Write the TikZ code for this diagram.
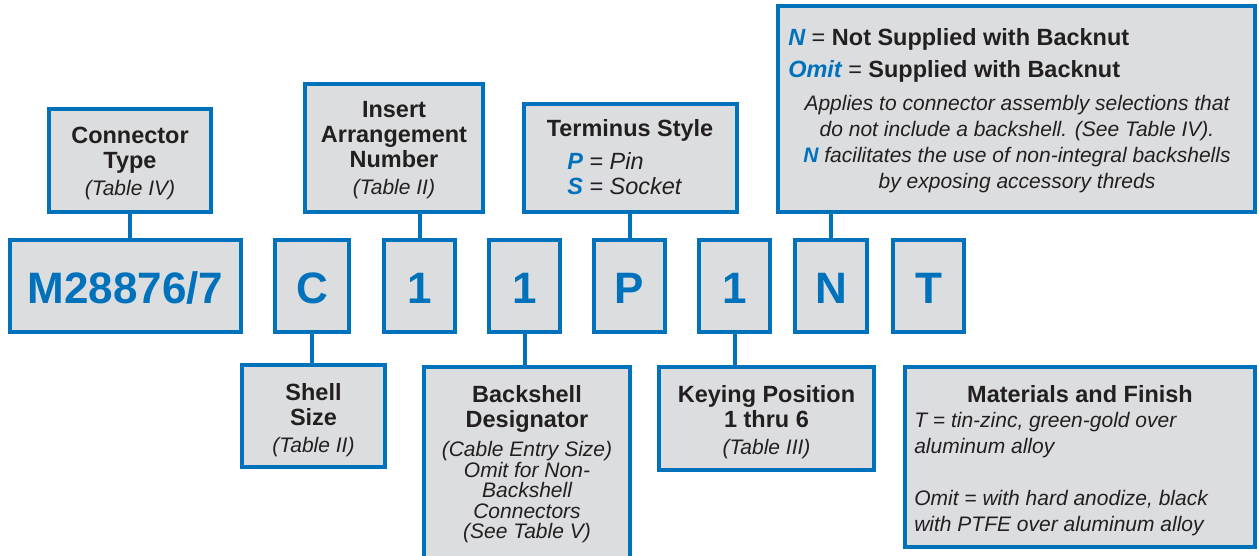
\documentclass[tikz,border=0pt]{standalone}
\usepackage{fontspec}
\setmainfont{Liberation Sans}
\usetikzlibrary{fit}
\definecolor{cblue}{RGB}{0,114,188}
\definecolor{cgray}{RGB}{220,221,223}
\definecolor{cdark}{RGB}{35,31,32}
\newcommand\bfsz{\fontsize{17.6}{18.75}\selectfont\bfseries}
\newcommand\itsz{\fontsize{15.75}{19.5}\selectfont\mdseries\itshape}
\newcommand\blu[1]{\textcolor{cblue}{\bfseries\itshape #1}}
\begin{document}
\begin{tikzpicture}[x=0.75pt,y=-0.75pt,
  box/.style={draw=cblue, fill=cgray, line width=3pt, inner sep=0pt},
  conn/.style={draw=cblue, line width=3pt},
  big/.style={font=\fontsize{33}{36}\selectfont\bfseries, text=cblue, inner sep=0pt, anchor=base},
  lbl/.style={align=center, font=\bfsz, text=cdark, inner sep=0pt, anchor=north},
  txt/.style={inner sep=0pt, text=cdark}]
\useasboundingbox (0,0) rectangle (1259,556);
\clip (0,0) rectangle (1259,556);

% code row
\node[box, fit={(10,240) (241,332)}] (m) {};
\node[box, fit={(275,240) (349,332)}] (c) {};
\node[box, fit={(384,240) (455,332)}] (d1) {};
\node[box, fit={(489,240) (560,332)}] (d2) {};
\node[box, fit={(594,240) (665,332)}] (p) {};
\node[box, fit={(699,240) (770,332)}] (d3) {};
\node[box, fit={(795,240) (867,332)}] (n) {};
\node[box, fit={(893,240) (964,332)}] (t) {};
\node[big] (mt) at (m.center |- 0,303) {M28876/7};
\node[big] (ctx) at (c.center |- 0,303) {C};
\node[big] (d1t) at (d1.center |- 0,303) {1};
\node[big] (d2t) at (d2.center |- 0,303) {1};
\node[big] (pt) at (p.center |- 0,303) {P};
\node[big] (d3t) at (d3.center |- 0,303) {1};
\node[big] (nt) at (n.center |- 0,303) {N};
\node[big] (tt) at (t.center |- 0,303) {T};

% upper boxes
\node[box, fit={(49,109) (211,212)}] (ct) {};
\node[lbl] (ctt) at (ct.center |- 0,127) {Connector\\Type\\[1.5pt]{\itsz (Table IV)}};
\node[box, fit={(305,84) (483,212)}] (ia) {};
\node[lbl] (iat) at (ia.center |- 0,101) {Insert\\Arrangement\\Number\\[1.5pt]{\itsz (Table II)}};
\node[box, fit={(524,104) (737,212)}] (ts) {};
\node[txt, font=\bfsz, anchor=base] (tst) at (630,137) {Terminus Style};
\node[txt, font=\fontsize{17.6}{18.75}\selectfont\itshape, align=left, anchor=north west] (tsl) at (567,152) {\blu{P} = Pin\\\blu{S} = Socket};
\node[box, fit={(778,6) (1255,212)}] (nb) {};
\node[txt, font=\fontsize{17.6}{24}\selectfont\bfseries, align=left, anchor=north west] (nbh) at (788,28) {\blu{N} {\mdseries =} Not Supplied with Backnut\\\blu{Omit} {\mdseries =} Supplied with Backnut};
\node[txt, font=\itsz, align=center, anchor=north] (nbt) at (1017,95) {Applies to connector assembly selections that\\do not include a backshell. (See Table IV).\\\blu{N} facilitates the use of non-integral backshells\\by exposing accessory threds};

% lower boxes
\node[box, fit={(242,365) (385,467)}] (ss) {};
\node[lbl] (sst) at (ss.center |- 0,383) {Shell\\Size\\[1.5pt]{\itsz (Table II)}};
\node[box, fit={(424,367) (630,580)}] (bd) {};
\node[txt, font=\bfsz, align=center, anchor=north] (bdt) at (527,385) {Backshell\\Designator};
\node[txt, font=\fontsize{15.75}{15.4}\selectfont\itshape, align=center, anchor=north] (bdl) at (527,441) {(Cable Entry Size)\\Omit for Non-\\Backshell\\Connectors\\(See Table V)};
\node[box, fit={(659,367) (874,470)}] (kp) {};
\node[lbl] (kpt) at (kp.center |- 0,385) {Keying Position\\1 thru 6\\[1.5pt]{\itsz (Table III)}};
\node[box, fit={(905,367) (1255,547)}] (mf) {};
\node[txt, font=\bfsz, anchor=base] (mft) at (1080,402) {Materials and Finish};
\node[txt, font=\itsz, align=left, anchor=north west] (mfl) at (914,412) {T = tin-zinc, green-gold over\\aluminum alloy\\[19.5pt]Omit = with hard anodize, black\\with PTFE over aluminum alloy};

% connectors
\draw[conn] (ct.south) -- (ct.south |- m.north);
\draw[conn] (d1.north) -- (d1.north |- ia.south);
\draw[conn] (p.north) -- (p.north |- ts.south);
\draw[conn] (n.north) -- (n.north |- nb.south);
\draw[conn] (c.south) -- (c.south |- ss.north);
\draw[conn] (d2.south) -- (d2.south |- bd.north);
\draw[conn] (d3.south) -- (d3.south |- kp.north);
\end{tikzpicture}
\end{document}
